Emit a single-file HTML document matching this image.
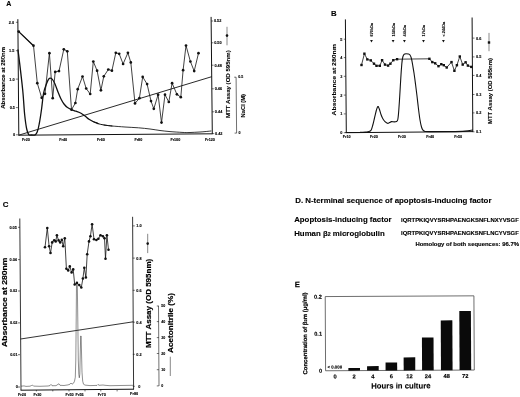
<!DOCTYPE html>
<html><head><meta charset="utf-8"><title>Figure</title>
<style>
html,body{margin:0;padding:0;background:#fff;}
body{width:520px;height:397px;overflow:hidden;font-family:"Liberation Sans",sans-serif;}
svg{display:block;font-family:"Liberation Sans",sans-serif;filter:grayscale(1) blur(0.3px);}
</style></head><body>
<svg width="520" height="397" viewBox="0 0 520 397">
<rect width="520" height="397" fill="#fff"/>
<g id="A">
<text x="6.2" y="6.1" font-size="7" font-weight="bold" text-anchor="start" stroke="#000" stroke-width="0.12" fill="#000">A</text>
<line x1="17.85" y1="19.2" x2="18.8" y2="135.2" stroke="#111" stroke-width="1.0"/>
<line x1="18.3" y1="135.2" x2="212.3" y2="133.8" stroke="#111" stroke-width="1.0"/>
<line x1="211.1" y1="16.9" x2="212.3" y2="134.2" stroke="#111" stroke-width="1.0"/>
<line x1="15.899999999999999" y1="22.3" x2="17.9" y2="22.3" stroke="#111" stroke-width="0.6"/>
<text x="14.0033" y="23.7" font-size="3.8" font-weight="bold" text-anchor="end" stroke="#000" stroke-width="0.12" fill="#000">2.0</text>
<line x1="15.899999999999999" y1="50.7" x2="17.9" y2="50.7" stroke="#111" stroke-width="0.6"/>
<text x="14.3157" y="52.1" font-size="3.8" font-weight="bold" text-anchor="end" stroke="#000" stroke-width="0.12" fill="#000">1.5</text>
<line x1="15.899999999999999" y1="79.1" x2="17.9" y2="79.1" stroke="#111" stroke-width="0.6"/>
<text x="14.6281" y="80.5" font-size="3.8" font-weight="bold" text-anchor="end" stroke="#000" stroke-width="0.12" fill="#000">1.0</text>
<line x1="15.899999999999999" y1="107.6" x2="17.9" y2="107.6" stroke="#111" stroke-width="0.6"/>
<text x="14.9416" y="109.0" font-size="3.8" font-weight="bold" text-anchor="end" stroke="#000" stroke-width="0.12" fill="#000">0.5</text>
<line x1="15.899999999999999" y1="134.8" x2="17.9" y2="134.8" stroke="#111" stroke-width="0.6"/>
<text x="15.2408" y="136.20000000000002" font-size="3.8" font-weight="bold" text-anchor="end" stroke="#000" stroke-width="0.12" fill="#000">0</text>
<text transform="translate(4.5,108.8) rotate(-90)" font-size="5.2" font-weight="bold" textLength="61.8" lengthAdjust="spacingAndGlyphs" fill="#000" stroke="#000" stroke-width="0.1">Absorbance at 280nm</text>
<line x1="211.14079999999998" y1="21" x2="213.14079999999998" y2="21" stroke="#111" stroke-width="0.6"/>
<text x="213.9408" y="22.4" font-size="3.8" font-weight="bold" text-anchor="start" stroke="#000" stroke-width="0.12" fill="#000">0.52</text>
<line x1="211.36316" y1="42.8" x2="213.36316" y2="42.8" stroke="#111" stroke-width="0.6"/>
<text x="214.16316" y="44.199999999999996" font-size="3.8" font-weight="bold" text-anchor="start" stroke="#000" stroke-width="0.12" fill="#000">0.50</text>
<line x1="211.59163999999998" y1="65.2" x2="213.59163999999998" y2="65.2" stroke="#111" stroke-width="0.6"/>
<text x="214.39164" y="66.60000000000001" font-size="3.8" font-weight="bold" text-anchor="start" stroke="#000" stroke-width="0.12" fill="#000">0.48</text>
<line x1="211.83236" y1="88.8" x2="213.83236" y2="88.8" stroke="#111" stroke-width="0.6"/>
<text x="214.63236" y="90.2" font-size="3.8" font-weight="bold" text-anchor="start" stroke="#000" stroke-width="0.12" fill="#000">0.46</text>
<line x1="212.06696" y1="111.8" x2="214.06696" y2="111.8" stroke="#111" stroke-width="0.6"/>
<text x="214.86696" y="113.2" font-size="3.8" font-weight="bold" text-anchor="start" stroke="#000" stroke-width="0.12" fill="#000">0.44</text>
<line x1="212.28932" y1="133.6" x2="214.28932" y2="133.6" stroke="#111" stroke-width="0.6"/>
<text x="215.08932000000001" y="135.0" font-size="3.8" font-weight="bold" text-anchor="start" stroke="#000" stroke-width="0.12" fill="#000">0.42</text>
<text transform="translate(230,117.9) rotate(-90)" font-size="5.7" font-weight="bold" textLength="67.6" lengthAdjust="spacingAndGlyphs" fill="#000" stroke="#000" stroke-width="0.1">MTT Assay (OD 595nm)</text>
<line x1="227" y1="26.8" x2="227" y2="45.3" stroke="#111" stroke-width="0.5"/>
<circle cx="227.0" cy="35.6" r="1.3" fill="#111"/>
<line x1="236.1" y1="77.2" x2="236.6" y2="133.1" stroke="#111" stroke-width="0.6"/>
<line x1="234.2" y1="77.2" x2="236.1" y2="77.2" stroke="#111" stroke-width="0.6"/>
<line x1="234.6" y1="133.1" x2="236.6" y2="133.1" stroke="#111" stroke-width="0.6"/>
<text x="238.2" y="78.4" font-size="3.6" font-weight="bold" text-anchor="start" stroke="#000" stroke-width="0.12" fill="#000">0.5</text>
<text x="238.4" y="134.4" font-size="3.6" font-weight="bold" text-anchor="start" stroke="#000" stroke-width="0.12" fill="#000">0</text>
<text transform="translate(244.8,117.4) rotate(-90)" font-size="5.4" font-weight="bold" textLength="23.4" lengthAdjust="spacingAndGlyphs" fill="#000" stroke="#000" stroke-width="0.1">NaCl (M)</text>
<text x="26" y="141" font-size="3.7" font-weight="bold" text-anchor="middle" stroke="#000" stroke-width="0.12" fill="#000">Fr20</text>
<text x="63.2" y="141" font-size="3.7" font-weight="bold" text-anchor="middle" stroke="#000" stroke-width="0.12" fill="#000">Fr40</text>
<text x="101" y="141" font-size="3.7" font-weight="bold" text-anchor="middle" stroke="#000" stroke-width="0.12" fill="#000">Fr60</text>
<text x="138.3" y="141" font-size="3.7" font-weight="bold" text-anchor="middle" stroke="#000" stroke-width="0.12" fill="#000">Fr80</text>
<text x="175.3" y="141" font-size="3.7" font-weight="bold" text-anchor="middle" stroke="#000" stroke-width="0.12" fill="#000">Fr100</text>
<text x="210" y="141" font-size="3.7" font-weight="bold" text-anchor="middle" stroke="#000" stroke-width="0.12" fill="#000">Fr120</text>
<line x1="18.7" y1="135.2" x2="211.7" y2="76.7" stroke="#111" stroke-width="0.9"/>
<path d="M18.0,50.0 C18.2,52.0 18.7,55.3 19.5,62.0 C20.3,68.7 21.8,81.2 22.7,90.0 C23.6,98.8 24.0,108.5 24.7,115.0 C25.4,121.5 26.0,125.8 26.7,129.0 C27.4,132.2 27.9,133.5 28.7,134.5 C29.4,135.5 30.1,134.9 31.2,135.0 C32.3,135.1 34.2,135.3 35.2,134.8 C36.2,134.3 36.5,133.8 37.2,132.0 C37.9,130.2 38.5,128.0 39.2,124.0 C40.0,120.0 41.0,113.2 41.7,108.0 C42.4,102.8 42.8,97.1 43.6,93.0 C44.4,88.9 45.8,85.8 46.6,83.5 C47.4,81.2 47.9,80.2 48.5,79.3 C49.1,78.4 49.8,78.2 50.5,78.2 C51.2,78.2 51.8,78.5 52.5,79.5 C53.2,80.5 54.1,81.9 55.0,84.0 C55.9,86.1 57.0,89.5 58.0,92.0 C59.0,94.5 60.0,97.0 61.0,99.0 C62.0,101.0 62.9,102.6 64.0,104.0 C65.1,105.4 66.2,106.6 67.5,107.5 C68.8,108.4 70.1,109.0 71.5,109.6 C72.9,110.2 74.4,110.6 76.0,111.2 C77.6,111.8 79.5,112.4 81.0,113.2 C82.5,114.0 83.7,115.0 85.0,116.0 C86.3,117.0 87.7,118.4 89.0,119.3 C90.3,120.2 91.5,120.8 93.0,121.5 C94.5,122.2 97.2,123.2 98.0,123.6" fill="none" stroke="#111" stroke-width="1.3" stroke-linejoin="round" stroke-linecap="round"/>
<path d="M93.0,121.5 C93.8,121.8 96.2,123.0 98.0,123.6 C99.8,124.2 101.7,124.6 104.0,125.0 C106.3,125.4 110.7,125.8 112.0,126.0" fill="none" stroke="#111" stroke-width="1.0" stroke-linejoin="round" stroke-linecap="round"/>
<path d="M104.0,125.0 C105.3,125.2 108.5,125.7 112.0,126.0 C115.5,126.3 120.6,126.7 125.0,127.0 C129.4,127.3 134.3,127.5 138.5,127.8 C142.7,128.1 146.4,128.6 150.0,129.0 C153.6,129.4 156.7,130.1 160.0,130.5 C163.3,130.9 166.3,131.3 170.0,131.6 C173.7,131.9 178.7,132.2 182.0,132.4 C185.3,132.6 187.0,132.6 190.0,132.5 C193.0,132.4 196.5,132.2 200.0,132.0 C203.5,131.8 209.2,131.2 211.0,131.0" fill="none" stroke="#111" stroke-width="0.85" stroke-linejoin="round" stroke-linecap="round"/>
<polyline points="18.7,31.6 33.5,45.7 37.3,83.2 41.7,97.8 45.0,93.8 49.4,53.2 52.7,98.2 55.2,71.9 59.0,71.1 63.8,49.3 67.3,51.3 71.5,109.7 75.4,103.0 77.7,89.2 82.5,76.5 86.2,88.5 90.2,94.0 93.3,61.5 97.1,70.7 100.9,90.3 103.8,76.3 108.3,69.5 111.9,70.7 115.8,52.8 119.2,53.8 123.1,64.0 127.9,52.8 130.8,62.4 135.0,103.4 139.4,98.2 142.7,76.9 147.1,84.1 151.0,101.1 153.8,108.8 158.1,94.7 161.5,122.6 165.0,94.7 168.8,102.0 172.1,83.2 176.9,94.3 180.8,97.2 183.1,70.2 186.0,45.5 190.4,61.5 194.2,71.1 198.5,53.2" fill="none" stroke="#111" stroke-width="0.8" stroke-linejoin="round" />
<polyline points="18.7,31.6 33.5,45.7" fill="none" stroke="#111" stroke-width="1.3" stroke-linejoin="round" />
<circle cx="18.7" cy="31.6" r="1.35" fill="#111"/>
<circle cx="33.5" cy="45.7" r="1.35" fill="#111"/>
<circle cx="37.3" cy="83.2" r="1.35" fill="#111"/>
<circle cx="41.7" cy="97.8" r="1.35" fill="#111"/>
<circle cx="45.0" cy="93.8" r="1.35" fill="#111"/>
<circle cx="49.4" cy="53.2" r="1.35" fill="#111"/>
<circle cx="52.7" cy="98.2" r="1.35" fill="#111"/>
<circle cx="55.2" cy="71.9" r="1.35" fill="#111"/>
<circle cx="59.0" cy="71.1" r="1.35" fill="#111"/>
<circle cx="63.8" cy="49.3" r="1.35" fill="#111"/>
<circle cx="67.3" cy="51.3" r="1.35" fill="#111"/>
<circle cx="71.5" cy="109.7" r="1.35" fill="#111"/>
<circle cx="75.4" cy="103.0" r="1.35" fill="#111"/>
<circle cx="77.7" cy="89.2" r="1.35" fill="#111"/>
<circle cx="82.5" cy="76.5" r="1.35" fill="#111"/>
<circle cx="86.2" cy="88.5" r="1.35" fill="#111"/>
<circle cx="90.2" cy="94.0" r="1.35" fill="#111"/>
<circle cx="93.3" cy="61.5" r="1.35" fill="#111"/>
<circle cx="97.1" cy="70.7" r="1.35" fill="#111"/>
<circle cx="100.9" cy="90.3" r="1.35" fill="#111"/>
<circle cx="103.8" cy="76.3" r="1.35" fill="#111"/>
<circle cx="108.3" cy="69.5" r="1.35" fill="#111"/>
<circle cx="111.9" cy="70.7" r="1.35" fill="#111"/>
<circle cx="115.8" cy="52.8" r="1.35" fill="#111"/>
<circle cx="119.2" cy="53.8" r="1.35" fill="#111"/>
<circle cx="123.1" cy="64.0" r="1.35" fill="#111"/>
<circle cx="127.9" cy="52.8" r="1.35" fill="#111"/>
<circle cx="130.8" cy="62.4" r="1.35" fill="#111"/>
<circle cx="135.0" cy="103.4" r="1.35" fill="#111"/>
<circle cx="139.4" cy="98.2" r="1.35" fill="#111"/>
<circle cx="142.7" cy="76.9" r="1.35" fill="#111"/>
<circle cx="147.1" cy="84.1" r="1.35" fill="#111"/>
<circle cx="151.0" cy="101.1" r="1.35" fill="#111"/>
<circle cx="153.8" cy="108.8" r="1.35" fill="#111"/>
<circle cx="158.1" cy="94.7" r="1.35" fill="#111"/>
<circle cx="161.5" cy="122.6" r="1.35" fill="#111"/>
<circle cx="165.0" cy="94.7" r="1.35" fill="#111"/>
<circle cx="168.8" cy="102.0" r="1.35" fill="#111"/>
<circle cx="172.1" cy="83.2" r="1.35" fill="#111"/>
<circle cx="176.9" cy="94.3" r="1.35" fill="#111"/>
<circle cx="180.8" cy="97.2" r="1.35" fill="#111"/>
<circle cx="183.1" cy="70.2" r="1.35" fill="#111"/>
<circle cx="186.0" cy="45.5" r="1.35" fill="#111"/>
<circle cx="190.4" cy="61.5" r="1.35" fill="#111"/>
<circle cx="194.2" cy="71.1" r="1.35" fill="#111"/>
<circle cx="198.5" cy="53.2" r="1.35" fill="#111"/>
</g>
<g id="B">
<text x="330.9" y="15.7" font-size="7.8" font-weight="bold" text-anchor="start" stroke="#000" stroke-width="0.12" fill="#000">B</text>
<line x1="345.4" y1="19.4" x2="346.3" y2="132.7" stroke="#111" stroke-width="1.0"/>
<line x1="345.9" y1="132.7" x2="472.9" y2="131.6" stroke="#111" stroke-width="1.0"/>
<line x1="472.1" y1="17.5" x2="472.8" y2="132" stroke="#111" stroke-width="1.0"/>
<line x1="343.8" y1="39.2" x2="345.8" y2="39.2" stroke="#111" stroke-width="0.6"/>
<text x="342.3" y="40.6" font-size="3.8" font-weight="bold" text-anchor="end" stroke="#000" stroke-width="0.12" fill="#000">5</text>
<line x1="343.8" y1="57.6" x2="345.8" y2="57.6" stroke="#111" stroke-width="0.6"/>
<text x="342.3" y="59.0" font-size="3.8" font-weight="bold" text-anchor="end" stroke="#000" stroke-width="0.12" fill="#000">4</text>
<line x1="343.8" y1="76.3" x2="345.8" y2="76.3" stroke="#111" stroke-width="0.6"/>
<text x="342.3" y="77.7" font-size="3.8" font-weight="bold" text-anchor="end" stroke="#000" stroke-width="0.12" fill="#000">3</text>
<line x1="343.8" y1="95.1" x2="345.8" y2="95.1" stroke="#111" stroke-width="0.6"/>
<text x="342.3" y="96.5" font-size="3.8" font-weight="bold" text-anchor="end" stroke="#000" stroke-width="0.12" fill="#000">2</text>
<line x1="343.8" y1="113.9" x2="345.8" y2="113.9" stroke="#111" stroke-width="0.6"/>
<text x="342.3" y="115.30000000000001" font-size="3.8" font-weight="bold" text-anchor="end" stroke="#000" stroke-width="0.12" fill="#000">1</text>
<line x1="343.8" y1="132.7" x2="345.8" y2="132.7" stroke="#111" stroke-width="0.6"/>
<text x="342.3" y="134.1" font-size="3.8" font-weight="bold" text-anchor="end" stroke="#000" stroke-width="0.12" fill="#000">0</text>
<text transform="translate(336.2,115.4) rotate(-90)" font-size="5.9" font-weight="bold" textLength="71.2" lengthAdjust="spacingAndGlyphs" fill="#000" stroke="#000" stroke-width="0.1">Absorbance at 280nm</text>
<line x1="472.5" y1="38.1" x2="474.5" y2="38.1" stroke="#111" stroke-width="0.6"/>
<text x="476.0" y="39.5" font-size="3.8" font-weight="bold" text-anchor="start" stroke="#000" stroke-width="0.12" fill="#000">0.6</text>
<line x1="472.5" y1="56.9" x2="474.5" y2="56.9" stroke="#111" stroke-width="0.6"/>
<text x="476.0" y="58.3" font-size="3.8" font-weight="bold" text-anchor="start" stroke="#000" stroke-width="0.12" fill="#000">0.5</text>
<line x1="472.5" y1="75.4" x2="474.5" y2="75.4" stroke="#111" stroke-width="0.6"/>
<text x="476.0" y="76.80000000000001" font-size="3.8" font-weight="bold" text-anchor="start" stroke="#000" stroke-width="0.12" fill="#000">0.4</text>
<line x1="472.5" y1="94.5" x2="474.5" y2="94.5" stroke="#111" stroke-width="0.6"/>
<text x="476.0" y="95.9" font-size="3.8" font-weight="bold" text-anchor="start" stroke="#000" stroke-width="0.12" fill="#000">0.3</text>
<line x1="472.5" y1="112.9" x2="474.5" y2="112.9" stroke="#111" stroke-width="0.6"/>
<text x="476.0" y="114.30000000000001" font-size="3.8" font-weight="bold" text-anchor="start" stroke="#000" stroke-width="0.12" fill="#000">0.2</text>
<line x1="472.5" y1="131.8" x2="474.5" y2="131.8" stroke="#111" stroke-width="0.6"/>
<text x="476.0" y="133.20000000000002" font-size="3.8" font-weight="bold" text-anchor="start" stroke="#000" stroke-width="0.12" fill="#000">0.1</text>
<text transform="translate(491.6,124) rotate(-90)" font-size="5.8" font-weight="bold" textLength="66.0" lengthAdjust="spacingAndGlyphs" fill="#000" stroke="#000" stroke-width="0.1">MTT Assay (OD 595nm)</text>
<line x1="489" y1="32.9" x2="489" y2="51.2" stroke="#111" stroke-width="0.5"/>
<rect x="487.8" y="41.3" width="2.4" height="2.4" fill="#111"/>
<text x="346.7" y="138.1" font-size="3.7" font-weight="bold" text-anchor="middle" stroke="#000" stroke-width="0.12" fill="#000">Fr10</text>
<text x="374" y="138.1" font-size="3.7" font-weight="bold" text-anchor="middle" stroke="#000" stroke-width="0.12" fill="#000">Fr20</text>
<text x="401.9" y="138.1" font-size="3.7" font-weight="bold" text-anchor="middle" stroke="#000" stroke-width="0.12" fill="#000">Fr30</text>
<text x="430.2" y="138.1" font-size="3.7" font-weight="bold" text-anchor="middle" stroke="#000" stroke-width="0.12" fill="#000">Fr40</text>
<text x="458.2" y="138.1" font-size="3.7" font-weight="bold" text-anchor="middle" stroke="#000" stroke-width="0.12" fill="#000">Fr50</text>
<path d="M370.1,40 L372.9,40 L371.5,42.6 Z" fill="#111"/>
<text transform="translate(372.9,36.4) rotate(-90)" font-size="3.8" stroke="#000" stroke-width="0.12" font-weight="bold" fill="#111">670kDa</text>
<path d="M391.70000000000005,40 L394.5,40 L393.1,42.6 Z" fill="#111"/>
<text transform="translate(394.5,36.4) rotate(-90)" font-size="3.8" stroke="#000" stroke-width="0.12" font-weight="bold" fill="#111">158kDa</text>
<path d="M403.0,40 L405.79999999999995,40 L404.4,42.6 Z" fill="#111"/>
<text transform="translate(405.79999999999995,36.4) rotate(-90)" font-size="3.8" stroke="#000" stroke-width="0.12" font-weight="bold" fill="#111">44kDa</text>
<path d="M422.1,40 L424.9,40 L423.5,42.6 Z" fill="#111"/>
<text transform="translate(424.9,36.4) rotate(-90)" font-size="3.8" stroke="#000" stroke-width="0.12" font-weight="bold" fill="#111">17kDa</text>
<path d="M442.0,40 L444.79999999999995,40 L443.4,42.6 Z" fill="#111"/>
<text transform="translate(444.79999999999995,36.4) rotate(-90)" font-size="3.8" stroke="#000" stroke-width="0.12" font-weight="bold" fill="#111">&lt; 244Da</text>
<path d="M345.8,132.5 C348.2,132.5 356.6,132.4 360.0,132.4 C363.4,132.3 364.5,132.2 366.0,132.1 C367.5,132.0 368.1,132.0 369.0,131.6 C369.9,131.3 370.6,131.0 371.2,129.9 C371.8,128.8 372.2,127.0 372.8,125.0 C373.4,123.0 373.9,120.4 374.5,118.0 C375.1,115.6 375.8,112.4 376.3,110.5 C376.9,108.6 377.3,106.8 377.8,106.5 C378.3,106.2 378.8,107.7 379.3,109.0 C379.8,110.3 380.4,112.8 381.0,114.5 C381.6,116.2 382.3,117.8 383.0,119.0 C383.7,120.2 384.2,120.9 385.0,121.6 C385.8,122.3 386.8,123.1 387.5,123.3 C388.2,123.5 388.8,122.9 389.5,122.6 C390.2,122.3 390.7,121.7 391.5,121.6 C392.3,121.5 393.4,121.9 394.2,121.9 C395.0,121.9 395.9,121.9 396.5,121.5 C397.1,121.1 397.4,121.4 397.8,119.5 C398.2,117.6 398.5,114.1 398.8,110.0 C399.1,105.9 399.5,100.3 399.8,95.0 C400.1,89.7 400.5,83.2 400.8,78.0 C401.1,72.8 401.5,67.5 401.8,64.0 C402.1,60.5 402.4,58.6 402.8,57.0 C403.2,55.4 403.5,54.8 404.0,54.3 C404.5,53.8 405.2,53.8 406.0,53.8 C406.8,53.8 407.8,53.8 408.5,54.0 C409.2,54.2 409.5,54.3 410.0,55.0 C410.5,55.7 410.9,56.5 411.3,58.0 C411.7,59.5 412.1,61.5 412.5,64.0 C412.9,66.5 413.5,69.7 414.0,73.0 C414.5,76.3 415.0,80.2 415.5,84.0 C416.0,87.8 416.5,91.8 417.0,96.0 C417.5,100.2 418.0,105.0 418.5,109.0 C419.0,113.0 419.5,117.0 420.0,120.0 C420.5,123.0 421.0,125.3 421.5,127.0 C422.0,128.7 422.4,129.4 423.0,130.1 C423.6,130.9 423.8,131.1 425.0,131.4 C426.2,131.6 425.8,131.6 430.0,131.6 C434.2,131.7 444.2,131.6 450.0,131.6 C455.8,131.5 461.2,131.4 465.0,131.1 C468.8,130.9 471.2,130.2 472.5,130.0" fill="none" stroke="#111" stroke-width="1.1" stroke-linejoin="round" stroke-linecap="round"/>
<polyline points="361.5,65.0 364.4,53.7 367.3,59.4 370.8,60.4 374.0,63.7 376.5,65.8 379.8,65.8 382.1,60.2 385.0,64.6 388.1,65.6 390.4,63.7 393.3,60.2 397.1,59.2 429.4,58.8 432.3,62.1 435.2,63.3 438.5,66.2 441.3,64.2 443.8,65.2 446.7,67.5 451.5,62.1 454.4,70.8 456.9,65.2 459.8,56.5 462.7,64.6 465.6,62.3 467.9,65.6 471.3,66.9" fill="none" stroke="#111" stroke-width="0.8" stroke-linejoin="round" />
<rect x="360.3" y="63.8" width="2.4" height="2.4" fill="#111"/>
<rect x="363.2" y="52.5" width="2.4" height="2.4" fill="#111"/>
<rect x="366.1" y="58.2" width="2.4" height="2.4" fill="#111"/>
<rect x="369.6" y="59.2" width="2.4" height="2.4" fill="#111"/>
<rect x="372.8" y="62.5" width="2.4" height="2.4" fill="#111"/>
<rect x="375.3" y="64.6" width="2.4" height="2.4" fill="#111"/>
<rect x="378.6" y="64.6" width="2.4" height="2.4" fill="#111"/>
<rect x="380.9" y="59.0" width="2.4" height="2.4" fill="#111"/>
<rect x="383.8" y="63.4" width="2.4" height="2.4" fill="#111"/>
<rect x="386.9" y="64.4" width="2.4" height="2.4" fill="#111"/>
<rect x="389.2" y="62.5" width="2.4" height="2.4" fill="#111"/>
<rect x="392.1" y="59.0" width="2.4" height="2.4" fill="#111"/>
<rect x="395.9" y="58.0" width="2.4" height="2.4" fill="#111"/>
<rect x="428.2" y="57.6" width="2.4" height="2.4" fill="#111"/>
<rect x="431.1" y="60.9" width="2.4" height="2.4" fill="#111"/>
<rect x="434.0" y="62.1" width="2.4" height="2.4" fill="#111"/>
<rect x="437.3" y="65.0" width="2.4" height="2.4" fill="#111"/>
<rect x="440.1" y="63.0" width="2.4" height="2.4" fill="#111"/>
<rect x="442.6" y="64.0" width="2.4" height="2.4" fill="#111"/>
<rect x="445.5" y="66.3" width="2.4" height="2.4" fill="#111"/>
<rect x="450.3" y="60.9" width="2.4" height="2.4" fill="#111"/>
<rect x="453.2" y="69.6" width="2.4" height="2.4" fill="#111"/>
<rect x="455.7" y="64.0" width="2.4" height="2.4" fill="#111"/>
<rect x="458.6" y="55.3" width="2.4" height="2.4" fill="#111"/>
<rect x="461.5" y="63.4" width="2.4" height="2.4" fill="#111"/>
<rect x="464.4" y="61.1" width="2.4" height="2.4" fill="#111"/>
<rect x="466.7" y="64.4" width="2.4" height="2.4" fill="#111"/>
<rect x="470.1" y="65.7" width="2.4" height="2.4" fill="#111"/>
</g>
<g id="C">
<text x="2.7" y="206.6" font-size="7.9" font-weight="bold" text-anchor="start" stroke="#000" stroke-width="0.12" fill="#000">C</text>
<line x1="19.8" y1="218.5" x2="21" y2="390.2" stroke="#111" stroke-width="0.85"/>
<line x1="20.6" y1="390.2" x2="134" y2="389.2" stroke="#111" stroke-width="1.0"/>
<line x1="132.6" y1="216.8" x2="133.6" y2="389.2" stroke="#111" stroke-width="0.85"/>
<line x1="36.4" y1="390" x2="36.4" y2="391.4" stroke="#111" stroke-width="0.6"/>
<line x1="52.8" y1="390" x2="52.8" y2="391.4" stroke="#111" stroke-width="0.6"/>
<line x1="69" y1="390" x2="69" y2="391.4" stroke="#111" stroke-width="0.6"/>
<line x1="85" y1="390" x2="85" y2="391.4" stroke="#111" stroke-width="0.6"/>
<line x1="100.8" y1="390" x2="100.8" y2="391.4" stroke="#111" stroke-width="0.6"/>
<line x1="117.1" y1="390" x2="117.1" y2="391.4" stroke="#111" stroke-width="0.6"/>
<line x1="18" y1="227.3" x2="20" y2="227.3" stroke="#111" stroke-width="0.6"/>
<text x="16.8018" y="228.70000000000002" font-size="3.8" font-weight="bold" text-anchor="end" stroke="#000" stroke-width="0.12" fill="#000">0.05</text>
<line x1="18" y1="259.6" x2="20" y2="259.6" stroke="#111" stroke-width="0.6"/>
<text x="16.9956" y="261.0" font-size="3.8" font-weight="bold" text-anchor="end" stroke="#000" stroke-width="0.12" fill="#000">0.04</text>
<line x1="18" y1="291" x2="20" y2="291" stroke="#111" stroke-width="0.6"/>
<text x="17.184" y="292.4" font-size="3.8" font-weight="bold" text-anchor="end" stroke="#000" stroke-width="0.12" fill="#000">0.03</text>
<line x1="18" y1="322.9" x2="20" y2="322.9" stroke="#111" stroke-width="0.6"/>
<text x="17.3754" y="324.29999999999995" font-size="3.8" font-weight="bold" text-anchor="end" stroke="#000" stroke-width="0.12" fill="#000">0.02</text>
<line x1="18" y1="354.7" x2="20" y2="354.7" stroke="#111" stroke-width="0.6"/>
<text x="17.566200000000002" y="356.09999999999997" font-size="3.8" font-weight="bold" text-anchor="end" stroke="#000" stroke-width="0.12" fill="#000">0.01</text>
<line x1="18" y1="387" x2="20" y2="387" stroke="#111" stroke-width="0.6"/>
<text x="17.76" y="388.4" font-size="3.8" font-weight="bold" text-anchor="end" stroke="#000" stroke-width="0.12" fill="#000">0</text>
<text transform="translate(7.4,347) rotate(-90)" font-size="7.6" font-weight="bold" textLength="89.4" lengthAdjust="spacingAndGlyphs" fill="#000" stroke="#000" stroke-width="0.18">Absorbance at 280nm</text>
<line x1="132.8" y1="225.9" x2="134.8" y2="225.9" stroke="#111" stroke-width="0.6"/>
<text x="136.3" y="227.3" font-size="3.8" font-weight="bold" text-anchor="start" stroke="#000" stroke-width="0.12" fill="#000">1.0</text>
<line x1="132.8" y1="258.1" x2="134.8" y2="258.1" stroke="#111" stroke-width="0.6"/>
<text x="136.3" y="259.5" font-size="3.8" font-weight="bold" text-anchor="start" stroke="#000" stroke-width="0.12" fill="#000">0.8</text>
<line x1="132.8" y1="290.3" x2="134.8" y2="290.3" stroke="#111" stroke-width="0.6"/>
<text x="136.3" y="291.7" font-size="3.8" font-weight="bold" text-anchor="start" stroke="#000" stroke-width="0.12" fill="#000">0.6</text>
<line x1="132.8" y1="322.2" x2="134.8" y2="322.2" stroke="#111" stroke-width="0.6"/>
<text x="136.3" y="323.59999999999997" font-size="3.8" font-weight="bold" text-anchor="start" stroke="#000" stroke-width="0.12" fill="#000">0.4</text>
<line x1="132.8" y1="354.3" x2="134.8" y2="354.3" stroke="#111" stroke-width="0.6"/>
<text x="136.3" y="355.7" font-size="3.8" font-weight="bold" text-anchor="start" stroke="#000" stroke-width="0.12" fill="#000">0.2</text>
<line x1="132.8" y1="386.3" x2="134.8" y2="386.3" stroke="#111" stroke-width="0.6"/>
<text x="138.3" y="387.7" font-size="3.8" font-weight="bold" text-anchor="start" stroke="#000" stroke-width="0.12" fill="#000">0</text>
<text transform="translate(151,348) rotate(-90)" font-size="8" font-weight="bold" textLength="89.2" lengthAdjust="spacingAndGlyphs" fill="#000" stroke="#000" stroke-width="0.18">MTT Assay (OD 595nm)</text>
<line x1="147.7" y1="233.8" x2="147.7" y2="253.1" stroke="#111" stroke-width="0.5"/>
<circle cx="147.7" cy="243.6" r="1.3" fill="#111"/>
<line x1="158.5" y1="305.9" x2="159" y2="386" stroke="#111" stroke-width="0.6"/>
<line x1="156.8" y1="306" x2="158.8" y2="306" stroke="#111" stroke-width="0.6"/>
<text x="161.2" y="307.3" font-size="3.6" font-weight="bold" text-anchor="start" stroke="#000" stroke-width="0.12" fill="#000">50</text>
<line x1="156.8" y1="321.6" x2="158.8" y2="321.6" stroke="#111" stroke-width="0.6"/>
<text x="161.2" y="322.90000000000003" font-size="3.6" font-weight="bold" text-anchor="start" stroke="#000" stroke-width="0.12" fill="#000">40</text>
<line x1="156.8" y1="337.6" x2="158.8" y2="337.6" stroke="#111" stroke-width="0.6"/>
<text x="161.2" y="338.90000000000003" font-size="3.6" font-weight="bold" text-anchor="start" stroke="#000" stroke-width="0.12" fill="#000">30</text>
<line x1="156.8" y1="353.5" x2="158.8" y2="353.5" stroke="#111" stroke-width="0.6"/>
<text x="161.2" y="354.8" font-size="3.6" font-weight="bold" text-anchor="start" stroke="#000" stroke-width="0.12" fill="#000">20</text>
<line x1="156.8" y1="369.7" x2="158.8" y2="369.7" stroke="#111" stroke-width="0.6"/>
<text x="161.2" y="371.0" font-size="3.6" font-weight="bold" text-anchor="start" stroke="#000" stroke-width="0.12" fill="#000">10</text>
<line x1="156.8" y1="385.9" x2="158.8" y2="385.9" stroke="#111" stroke-width="0.6"/>
<text x="161.2" y="387.2" font-size="3.6" font-weight="bold" text-anchor="start" stroke="#000" stroke-width="0.12" fill="#000">0</text>
<text transform="translate(173.2,352.9) rotate(-90)" font-size="8" font-weight="bold" textLength="59.9" lengthAdjust="spacingAndGlyphs" fill="#000" stroke="#000" stroke-width="0.18">Acetonitrile (%)</text>
<line x1="170.3" y1="356.7" x2="170.3" y2="376" stroke="#111" stroke-width="0.5"/>
<text x="22" y="396.2" font-size="3.8" font-weight="bold" text-anchor="middle" stroke="#000" stroke-width="0.12" fill="#000">Fr20</text>
<text x="37.4" y="396.0922" font-size="3.8" font-weight="bold" text-anchor="middle" stroke="#000" stroke-width="0.12" fill="#000">Fr30</text>
<text x="69.6" y="395.8668" font-size="3.8" font-weight="bold" text-anchor="middle" stroke="#000" stroke-width="0.12" fill="#000">Fr50</text>
<text x="79.6" y="395.79679999999996" font-size="3.8" font-weight="bold" text-anchor="middle" stroke="#000" stroke-width="0.12" fill="#000">Fr56</text>
<text x="101.8" y="395.6414" font-size="3.8" font-weight="bold" text-anchor="middle" stroke="#000" stroke-width="0.12" fill="#000">Fr70</text>
<text x="134.1" y="395.4153" font-size="3.8" font-weight="bold" text-anchor="middle" stroke="#000" stroke-width="0.12" fill="#000">Fr80</text>
<line x1="20.6" y1="339" x2="133.2" y2="321.8" stroke="#111" stroke-width="0.85"/>
<polyline points="21.0,386.2 24.0,385.9 26.0,386.4 30.0,386.2 31.5,385.5 32.5,385.1 33.5,386.1 40.0,386.3 48.0,386.0 50.0,385.6 51.0,384.4 52.0,385.7 56.0,385.7 58.0,384.3 59.0,383.8 60.0,385.3 64.0,385.5 68.0,384.9 70.0,384.2 71.0,383.0 72.0,384.2 73.5,383.2 74.5,381.2 75.3,377.2 75.8,360.0 76.2,320.0 76.5,284.0 76.9,283.0 77.3,284.0 77.8,320.0 78.3,360.0 78.8,374.2 79.3,377.8 79.8,374.2 80.3,352.0 80.7,336.0 81.1,336.0 81.5,352.0 82.0,372.2 82.7,381.2 83.5,384.2 85.0,385.1 90.0,385.6 97.0,385.4 98.0,384.4 99.0,385.3 103.0,385.0 105.0,385.3 110.0,385.7 120.0,385.5 133.4,385.3" fill="none" stroke="#333" stroke-width="0.55" stroke-linejoin="round" />
<polyline points="45.0,247.2 47.3,228.0 49.1,246.2 50.5,253.0 52.2,242.4 54.2,240.2 55.7,241.4 56.9,235.3 58.6,240.4 60.2,242.4 61.8,239.9 63.2,246.3 64.8,238.2 66.4,268.8 68.2,270.4 69.8,266.4 71.6,272.4 73.2,269.4 74.7,284.5 76.9,282.9 79.3,285.1 81.3,287.5 82.9,278.5 84.3,267.8 85.9,277.5 87.2,254.2 89.0,241.4 90.4,236.2 92.1,224.2 94.0,239.2 96.4,240.0 98.4,238.8 100.5,235.2 102.9,236.2 104.5,238.2 105.5,258.7 106.9,235.2 108.5,249.7" fill="none" stroke="#111" stroke-width="0.8" stroke-linejoin="round" />
<circle cx="45.0" cy="247.2" r="1.3" fill="#111"/>
<circle cx="47.3" cy="228.0" r="1.3" fill="#111"/>
<circle cx="49.1" cy="246.2" r="1.3" fill="#111"/>
<circle cx="50.5" cy="253.0" r="1.3" fill="#111"/>
<circle cx="52.2" cy="242.4" r="1.3" fill="#111"/>
<circle cx="54.2" cy="240.2" r="1.3" fill="#111"/>
<circle cx="55.7" cy="241.4" r="1.3" fill="#111"/>
<circle cx="56.9" cy="235.3" r="1.3" fill="#111"/>
<circle cx="58.6" cy="240.4" r="1.3" fill="#111"/>
<circle cx="60.2" cy="242.4" r="1.3" fill="#111"/>
<circle cx="61.8" cy="239.9" r="1.3" fill="#111"/>
<circle cx="63.2" cy="246.3" r="1.3" fill="#111"/>
<circle cx="64.8" cy="238.2" r="1.3" fill="#111"/>
<circle cx="66.4" cy="268.8" r="1.3" fill="#111"/>
<circle cx="68.2" cy="270.4" r="1.3" fill="#111"/>
<circle cx="69.8" cy="266.4" r="1.3" fill="#111"/>
<circle cx="71.6" cy="272.4" r="1.3" fill="#111"/>
<circle cx="73.2" cy="269.4" r="1.3" fill="#111"/>
<circle cx="74.7" cy="284.5" r="1.3" fill="#111"/>
<circle cx="76.9" cy="282.9" r="1.3" fill="#111"/>
<circle cx="79.3" cy="285.1" r="1.3" fill="#111"/>
<circle cx="81.3" cy="287.5" r="1.3" fill="#111"/>
<circle cx="82.9" cy="278.5" r="1.3" fill="#111"/>
<circle cx="84.3" cy="267.8" r="1.3" fill="#111"/>
<circle cx="85.9" cy="277.5" r="1.3" fill="#111"/>
<circle cx="87.2" cy="254.2" r="1.3" fill="#111"/>
<circle cx="89.0" cy="241.4" r="1.3" fill="#111"/>
<circle cx="90.4" cy="236.2" r="1.3" fill="#111"/>
<circle cx="92.1" cy="224.2" r="1.3" fill="#111"/>
<circle cx="94.0" cy="239.2" r="1.3" fill="#111"/>
<circle cx="96.4" cy="240.0" r="1.3" fill="#111"/>
<circle cx="98.4" cy="238.8" r="1.3" fill="#111"/>
<circle cx="100.5" cy="235.2" r="1.3" fill="#111"/>
<circle cx="102.9" cy="236.2" r="1.3" fill="#111"/>
<circle cx="104.5" cy="238.2" r="1.3" fill="#111"/>
<circle cx="105.5" cy="258.7" r="1.3" fill="#111"/>
<circle cx="106.9" cy="235.2" r="1.3" fill="#111"/>
<circle cx="108.5" cy="249.7" r="1.3" fill="#111"/>
</g>
<g id="D">
<text x="295.2" y="203" font-size="8.1" font-weight="bold" text-anchor="start" textLength="196.3" lengthAdjust="spacingAndGlyphs" stroke="#000" stroke-width="0.12" fill="#000">D. N-terminal sequence of apoptosis-inducing factor</text>
<text x="294.2" y="221.6" font-size="8.1" font-weight="bold" text-anchor="start" textLength="97.4" lengthAdjust="spacingAndGlyphs" stroke="#000" stroke-width="0.12" fill="#000">Apoptosis-inducing factor</text>
<text x="294.2" y="235.7" font-size="8.1" font-weight="bold" fill="#000" stroke="#000" stroke-width="0.12" textLength="90.5" lengthAdjust="spacingAndGlyphs">Human β<tspan font-size="5.4">2</tspan> microglobulin</text>
<text x="401" y="221.6" font-size="5.9" font-weight="bold" text-anchor="start" textLength="117.8" lengthAdjust="spacingAndGlyphs" stroke="#000" stroke-width="0.12" fill="#000">IQRTPKIQVYSRHPAENGKSNFLNXYVSGF</text>
<text x="401" y="235.4" font-size="5.9" font-weight="bold" text-anchor="start" textLength="117.8" lengthAdjust="spacingAndGlyphs" stroke="#000" stroke-width="0.12" fill="#000">IQRTPKIQVYSRHPAENGKSNFLNCYVSGF</text>
<text x="415.4" y="245.9" font-size="5.6" font-weight="bold" text-anchor="start" textLength="103.6" lengthAdjust="spacingAndGlyphs" stroke="#000" stroke-width="0.12" fill="#000">Homology of both sequences: 96.7%</text>
</g>
<g id="E" transform="rotate(-0.28 400 333)">
<text x="295" y="286.8" font-size="7.8" font-weight="bold" text-anchor="start" stroke="#000" stroke-width="0.12" fill="#000">E</text>
<rect x="325.4" y="296.2" width="148.70000000000005" height="74.19999999999999" fill="none" stroke="#4a4a4a" stroke-width="0.8"/>
<text x="322" y="298.3" font-size="5.6" font-weight="bold" text-anchor="end" stroke="#000" stroke-width="0.12" fill="#000">0.2</text>
<text x="322" y="335.3" font-size="5.6" font-weight="bold" text-anchor="end" stroke="#000" stroke-width="0.12" fill="#000">0.1</text>
<text x="322" y="372.3" font-size="5.6" font-weight="bold" text-anchor="end" stroke="#000" stroke-width="0.12" fill="#000">0</text>
<rect x="348.2" y="367.8" width="11.6" height="2.6" fill="#0a0a0a"/>
<rect x="366.9" y="366" width="11.6" height="4.4" fill="#0a0a0a"/>
<rect x="385.4" y="362.4" width="11.6" height="8.0" fill="#0a0a0a"/>
<rect x="403.5" y="357.4" width="11.6" height="13.0" fill="#0a0a0a"/>
<rect x="421.9" y="337.7" width="11.6" height="32.7" fill="#0a0a0a"/>
<rect x="440.8" y="320.6" width="11.6" height="49.8" fill="#0a0a0a"/>
<rect x="459.4" y="311.4" width="11.6" height="59.0" fill="#0a0a0a"/>
<text x="335" y="378.3" font-size="5.8" font-weight="bold" text-anchor="middle" stroke="#000" stroke-width="0.12" fill="#000">0</text>
<text x="354" y="378.3" font-size="5.8" font-weight="bold" text-anchor="middle" stroke="#000" stroke-width="0.12" fill="#000">2</text>
<text x="372.7" y="378.3" font-size="5.8" font-weight="bold" text-anchor="middle" stroke="#000" stroke-width="0.12" fill="#000">4</text>
<text x="391.2" y="378.3" font-size="5.8" font-weight="bold" text-anchor="middle" stroke="#000" stroke-width="0.12" fill="#000">6</text>
<text x="409.3" y="378.3" font-size="5.8" font-weight="bold" text-anchor="middle" stroke="#000" stroke-width="0.12" fill="#000">12</text>
<text x="427.7" y="378.3" font-size="5.8" font-weight="bold" text-anchor="middle" stroke="#000" stroke-width="0.12" fill="#000">24</text>
<text x="446.6" y="378.3" font-size="5.8" font-weight="bold" text-anchor="middle" stroke="#000" stroke-width="0.12" fill="#000">48</text>
<text x="465.1" y="378.3" font-size="5.8" font-weight="bold" text-anchor="middle" stroke="#000" stroke-width="0.12" fill="#000">72</text>
<text x="327.4" y="368.2" font-size="4.3" font-weight="bold" text-anchor="start" stroke="#000" stroke-width="0.12" fill="#000">&lt; 0.006</text>
<text x="370.9" y="388.5" font-size="8.0" font-weight="bold" text-anchor="start" textLength="59.3" lengthAdjust="spacingAndGlyphs" stroke="#000" stroke-width="0.12" fill="#000">Hours in culture</text>
<text transform="translate(307,374) rotate(-90)" font-size="5.9" font-weight="bold" fill="#000" stroke="#000" stroke-width="0.2" textLength="82" lengthAdjust="spacingAndGlyphs">Concentration of β<tspan font-size="4">2</tspan>m (μg/ml)</text>
</g>
</svg>
</body></html>
